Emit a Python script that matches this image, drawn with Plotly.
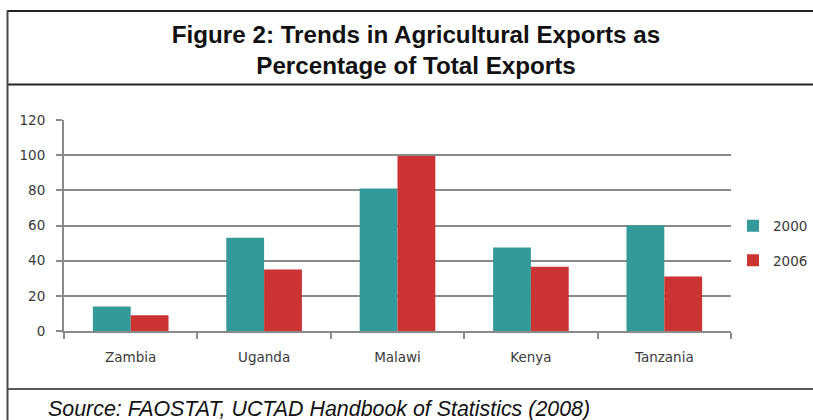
import plotly.graph_objects as go

countries = ["Zambia", "Uganda", "Malawi", "Kenya", "Tanzania"]
series_names = ["2000", "2006"]
values_2000 = [14, 53, 81, 47.5, 60]
values_2006 = [9, 35, 99.5, 36.5, 31]
y_ticks = [0, 20, 40, 60, 80, 100, 120]

title_text = "Figure 2: Trends in Agricultural Exports as<br>Percentage of Total Exports"
source_text = "Source: FAOSTAT, UCTAD Handbook of Statistics (2008)"

colors = ["#339999", "#cc3333"]

W, H = 813, 420
L, R, T, B = 64, 82, 120, 89
pw, ph = W - L - R, H - T - B

def px_x(p):
    return (p - L) / pw

def px_y(p):
    return (H - B - p) / ph

fig = go.Figure()
for name, vals, col in zip(series_names, [values_2000, values_2006], colors):
    fig.add_trace(go.Bar(x=countries, y=vals, name=name, marker_color=col,
                         marker_line_width=0, legendgroup=name))

tick_font = dict(family="DejaVu Sans", size=13.5, color="#3a3a3a")
grid_col = "#8a8a8a"

fig.update_layout(
    width=W, height=H,
    margin=dict(l=L, r=R, t=T, b=B, autoexpand=False),
    paper_bgcolor="white", plot_bgcolor="white",
    barmode="group", bargap=0.433, bargroupgap=0,
    showlegend=True,
    legend=dict(x=px_x(733), xanchor="left", y=px_y(243.5), yanchor="middle",
                font=tick_font, tracegroupgap=14, bgcolor="rgba(0,0,0,0)",
                itemwidth=30),
    title=dict(text=title_text, xref="paper", x=px_x(416), xanchor="center",
               yref="container", y=1 - 43 / H, yanchor="top",
               font=dict(family="Liberation Sans", size=24.2, color="#111111", weight="bold")),
    annotations=[dict(text=source_text, xref="paper", yref="paper",
                      x=px_x(46), y=px_y(409), xanchor="left", yanchor="middle",
                      showarrow=False,
                      font=dict(family="Liberation Sans", size=21.4, color="#111111",
                                style="italic"))],
    shapes=[
        dict(type="line", xref="paper", yref="paper", x0=px_x(7.5), x1=px_x(820),
             y0=px_y(11), y1=px_y(11), line=dict(color="#222222", width=2)),
        dict(type="line", xref="paper", yref="paper", x0=px_x(7.5), x1=px_x(820),
             y0=px_y(84.5), y1=px_y(84.5), line=dict(color="#222222", width=2)),
        dict(type="line", xref="paper", yref="paper", x0=px_x(7.5), x1=px_x(820),
             y0=px_y(389), y1=px_y(389), line=dict(color="#222222", width=1.5)),
        dict(type="line", xref="paper", yref="paper", x0=px_x(7.5), x1=px_x(7.5),
             y0=px_y(10), y1=px_y(425), line=dict(color="#4a4a4a", width=2)),
    ],
)

fig.update_xaxes(
    type="category", tickson="boundaries", ticks="outside", ticklen=6,
    tickcolor=grid_col, tickwidth=2, showline=True, linecolor=grid_col, linewidth=2,
    showgrid=False, tickfont=tick_font, ticklabelstandoff=13,
)
fig.update_yaxes(
    range=[0, 120], tickvals=y_ticks, ticks="outside", ticklen=6,
    tickcolor=grid_col, tickwidth=2, showline=True, linecolor=grid_col, linewidth=2,
    showgrid=True, gridcolor=grid_col, gridwidth=2, zeroline=False,
    tickfont=tick_font, ticklabelstandoff=8,
)

fig.write_html("out.html")
